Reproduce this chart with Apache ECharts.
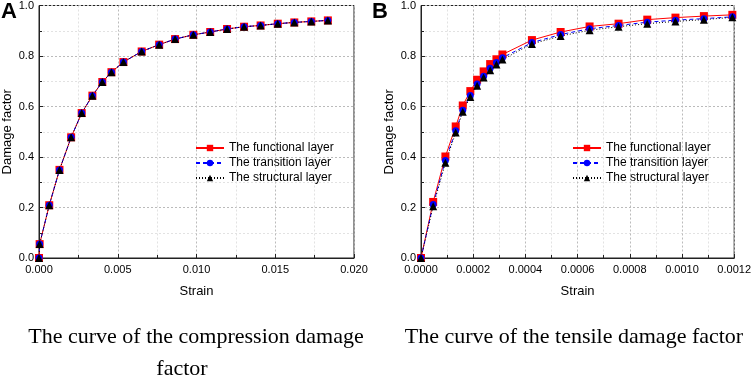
<!DOCTYPE html>
<html>
<head>
<meta charset="utf-8">
<script src="https://cdn.jsdelivr.net/npm/echarts@6/dist/echarts.min.js"></script>
<style>
  html, body { margin: 0; padding: 0; background: #fff; }
  #damage { width: 754px; height: 381px; }
</style>
</head>
<body>
<div id="damage"></div>
<script>
// A: compression damage factor (the three layers overlap)
var compStrain = [0, 0.00004, 0.00065, 0.0013, 0.00204, 0.00271, 0.00339, 0.00402, 0.0046, 0.00536, 0.00652,
  0.00763, 0.00864, 0.0098, 0.01087, 0.01194, 0.01302, 0.01407, 0.01516, 0.01621, 0.01729, 0.01834];
var compFunctional = [0, 0.055, 0.209, 0.349, 0.478, 0.574, 0.643, 0.697, 0.736, 0.776, 0.818,
  0.845, 0.867, 0.884, 0.895, 0.907, 0.916, 0.921, 0.928, 0.933, 0.937, 0.941];
var compTransition = [0, 0.055, 0.209, 0.349, 0.478, 0.574, 0.643, 0.697, 0.736, 0.776, 0.818,
  0.845, 0.867, 0.884, 0.895, 0.907, 0.916, 0.921, 0.928, 0.933, 0.937, 0.941];
var compStructural = [0, 0.055, 0.209, 0.349, 0.478, 0.574, 0.643, 0.697, 0.736, 0.776, 0.818,
  0.845, 0.867, 0.884, 0.895, 0.907, 0.916, 0.921, 0.928, 0.933, 0.937, 0.941];

// B: tensile damage factor
var tensStrain = [0, 0.0000466, 0.0000935, 0.000133, 0.00016, 0.000189, 0.000215, 0.00024, 0.000265, 0.000289,
  0.000312, 0.000425, 0.000535, 0.000646, 0.000757, 0.000867, 0.000975, 0.001084, 0.001193];
var tensFunctional = [0, 0.222, 0.402, 0.521, 0.604, 0.661, 0.706, 0.739, 0.768, 0.787,
  0.806, 0.863, 0.895, 0.917, 0.928, 0.944, 0.952, 0.958, 0.963];
var tensTransition = [0, 0.212, 0.386, 0.504, 0.585, 0.644, 0.689, 0.720, 0.751, 0.774,
  0.793, 0.853, 0.885, 0.908, 0.921, 0.934, 0.942, 0.948, 0.955];
var tensStructural = [0, 0.205, 0.377, 0.497, 0.579, 0.638, 0.682, 0.715, 0.744, 0.766,
  0.786, 0.848, 0.879, 0.902, 0.916, 0.928, 0.937, 0.944, 0.953];

var layerNames = ['The functional layer', 'The transition layer', 'The structural layer'];
var captions = ['The curve of the compression damage', 'factor', 'The curve of the tensile damage factor'];

var font = 'Liberation Sans, Arial, sans-serif';
var serif = '22px Liberation Serif, Times New Roman, serif';

function pairs(xs, ys) {
  return xs.map(function (x, i) { return [x, ys[i]]; });
}

function xAxisFor(idx, max, interval, digits) {
  return {
    gridIndex: idx,
    type: 'value',
    min: 0,
    max: max,
    interval: interval,
    name: 'Strain',
    nameLocation: 'middle',
    nameGap: 27,
    nameTextStyle: { color: '#000', fontSize: 13, fontFamily: font },
    axisLine: { lineStyle: { color: '#222', width: 1 } },
    axisTick: { inside: true, length: 4, lineStyle: { color: '#222' } },
    minorTick: { show: true, splitNumber: 2, length: 3, lineStyle: { color: '#222' } },
    axisLabel: {
      color: '#000', fontSize: 11, fontFamily: font, margin: 6,
      formatter: function (v) { return v.toFixed(digits); }
    },
    splitLine: { show: true, lineStyle: { color: '#bbb', type: [2, 2] } },
    minorSplitLine: { show: true, lineStyle: { color: '#e2e2e2', type: [2, 2] } }
  };
}

function yAxisFor(idx) {
  return {
    gridIndex: idx,
    type: 'value',
    min: 0,
    max: 1,
    interval: 0.2,
    name: 'Damage factor',
    nameLocation: 'middle',
    nameGap: 25,
    nameTextStyle: { color: '#000', fontSize: 13, fontFamily: font },
    axisLine: { show: true, lineStyle: { color: '#222', width: 1 } },
    axisTick: { show: true, inside: true, length: 4, lineStyle: { color: '#222' } },
    minorTick: { show: true, splitNumber: 2, length: 3, lineStyle: { color: '#222' } },
    axisLabel: {
      color: '#000', fontSize: 11, fontFamily: font, margin: 5,
      formatter: function (v) { return v.toFixed(1); }
    },
    splitLine: { show: true, lineStyle: { color: '#bbb', type: [2, 2] } },
    minorSplitLine: { show: true, lineStyle: { color: '#e2e2e2', type: [2, 2] } }
  };
}

function layerSeries(idx, xs, f, t, s) {
  return [
    {
      name: layerNames[0], type: 'line', xAxisIndex: idx, yAxisIndex: idx,
      data: pairs(xs, f), symbol: 'rect', symbolSize: 8,
      itemStyle: { color: '#ff0000' },
      lineStyle: { color: '#ff0000', width: 1 }
    },
    {
      name: layerNames[1], type: 'line', xAxisIndex: idx, yAxisIndex: idx,
      data: pairs(xs, t), symbol: 'circle', symbolSize: 7,
      itemStyle: { color: '#0000ff' },
      lineStyle: { color: '#0000ff', width: 1, type: [4, 3] }
    },
    {
      name: layerNames[2], type: 'line', xAxisIndex: idx, yAxisIndex: idx,
      data: pairs(xs, s), symbol: 'triangle', symbolSize: 8,
      itemStyle: { color: '#000' },
      lineStyle: { color: '#000', width: 1, type: [1, 2] }
    }
  ];
}

function legendAt(left) {
  return {
    data: layerNames,
    orient: 'vertical',
    left: left,
    top: 142,
    padding: 0,
    itemWidth: 28,
    itemHeight: 8,
    itemGap: 3,
    selectedMode: false,
    textStyle: { color: '#000', fontSize: 12, fontFamily: font }
  };
}

var chart = echarts.init(document.getElementById('damage'));
chart.setOption({
  animation: false,
  backgroundColor: '#fff',
  grid: [
    { left: 37, top: 4, width: 317, height: 254, show: true, borderColor: '#222', borderWidth: 1 },
    { left: 421, top: 4, width: 317, height: 254, show: true, borderColor: '#222', borderWidth: 1 }
  ],
  legend: [legendAt(195), legendAt(572)],
  xAxis: [xAxisFor(0, 0.02, 0.005, 3), xAxisFor(1, 0.0012, 0.0002, 4)],
  yAxis: [yAxisFor(0), yAxisFor(1)],
  series: layerSeries(0, compStrain, compFunctional, compTransition, compStructural)
    .concat(layerSeries(1, tensStrain, tensFunctional, tensTransition, tensStructural)),
  graphic: [
    { type: 'text', left: 1, top: 1, style: { text: 'A', fill: '#000', font: 'bold 22px ' + font } },
    { type: 'text', left: 372, top: 1, style: { text: 'B', fill: '#000', font: 'bold 22px ' + font } },
    { type: 'text', x: 196, y: 337, style: { text: captions[0], fill: '#000', font: serif, textAlign: 'center', textVerticalAlign: 'middle' } },
    { type: 'text', x: 182, y: 369, style: { text: captions[1], fill: '#000', font: serif, textAlign: 'center', textVerticalAlign: 'middle' } },
    { type: 'text', x: 574, y: 337, style: { text: captions[2], fill: '#000', font: serif, textAlign: 'center', textVerticalAlign: 'middle' } }
  ]
});
</script>
</body>
</html>
